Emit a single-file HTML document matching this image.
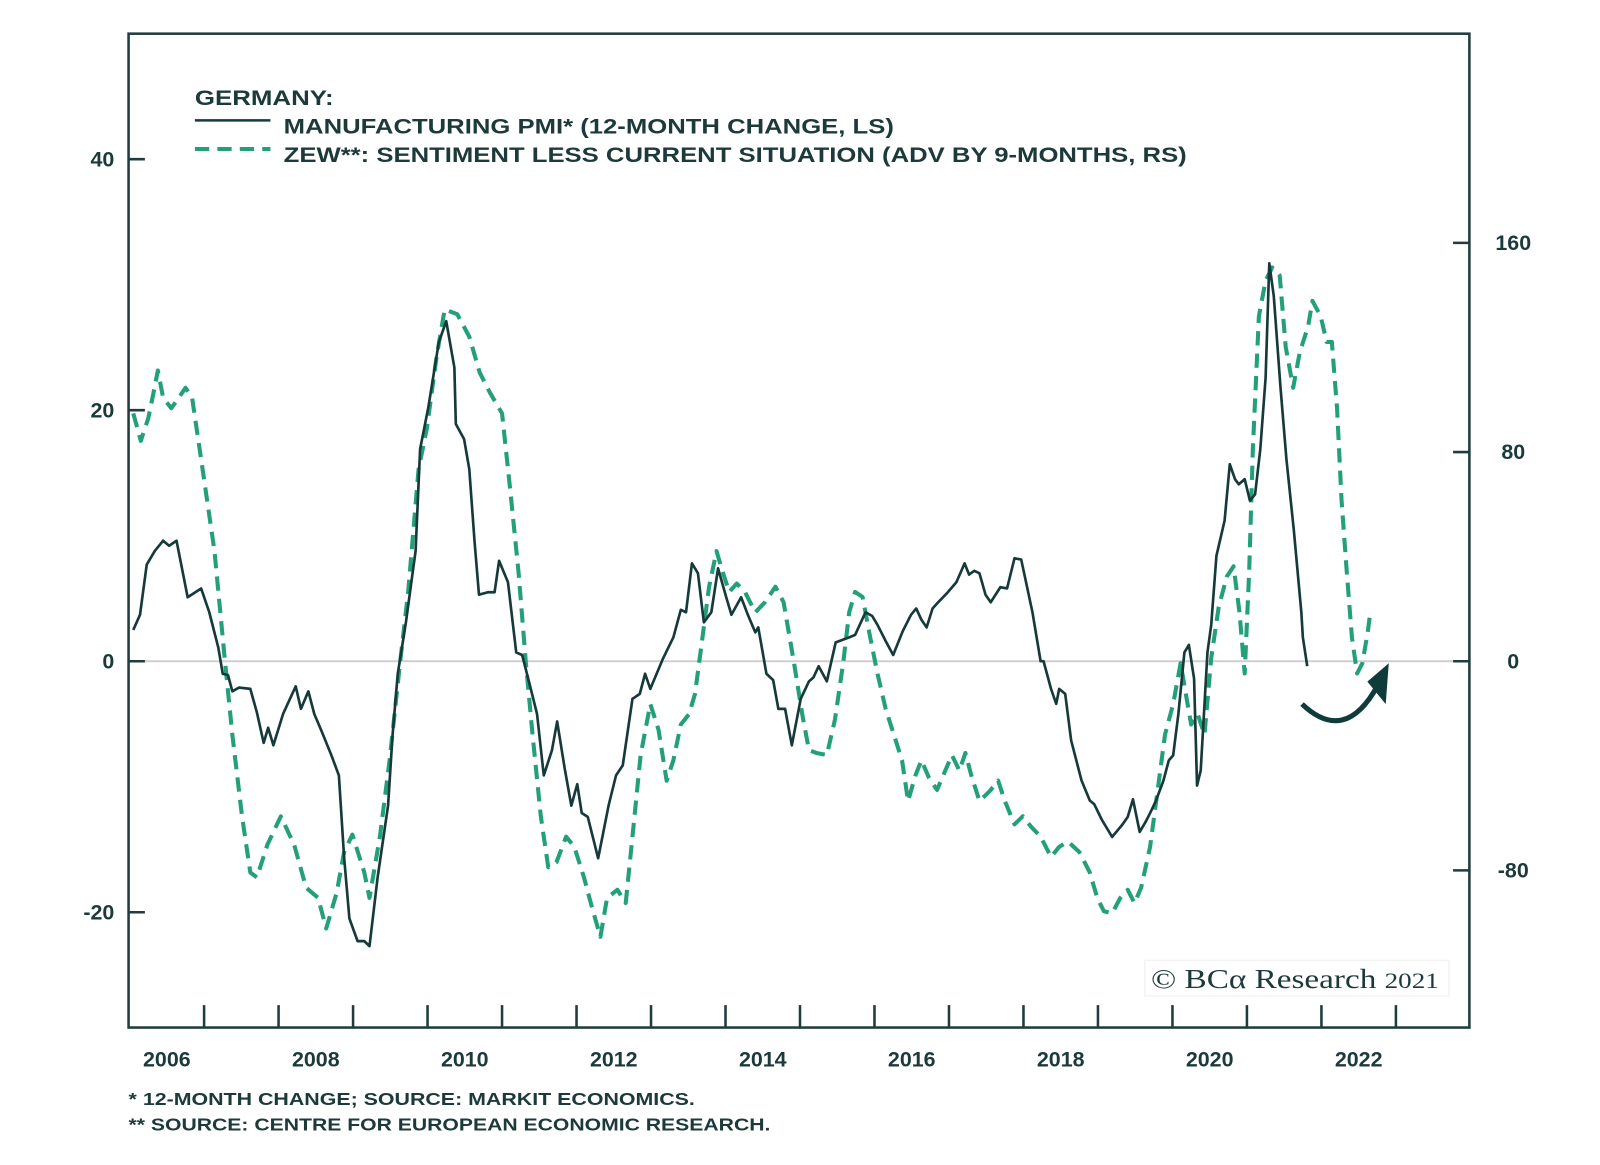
<!DOCTYPE html>
<html><head><meta charset="utf-8"><style>
html,body{margin:0;padding:0;background:#fff;}
svg{display:block;}
text{font-family:"Liberation Sans",sans-serif;fill:#1d3a3a;}
</style></head><body>
<svg id="chart" width="1600" height="1165" viewBox="0 0 1568 1141.7" xmlns="http://www.w3.org/2000/svg">
<rect x="0" y="0" width="1568" height="1142" fill="#fff"/>
<line x1="127" x2="1440" y1="648" y2="648" stroke="#cfcfcf" stroke-width="2"/>
<g id="axes"></g>
<g id="series"></g>
<rect x="126" y="33" width="1314" height="974" fill="none" stroke="#1f3d3d" stroke-width="2.5"/>
<g>
<text x="191" y="103" font-size="21" font-weight="bold" textLength="136" lengthAdjust="spacingAndGlyphs">GERMANY:</text>
<line x1="191" x2="265" y1="118" y2="118" stroke="#16393a" stroke-width="2.5"/>
<text x="278" y="131" font-size="21" font-weight="bold" textLength="598" lengthAdjust="spacingAndGlyphs">MANUFACTURING PMI* (12-MONTH CHANGE, LS)</text>
<line x1="191" x2="265" y1="146" y2="146" stroke="#23a07a" stroke-width="4" stroke-dasharray="14,8"/>
<text x="278" y="159" font-size="21" font-weight="bold" textLength="885" lengthAdjust="spacingAndGlyphs">ZEW**: SENTIMENT LESS CURRENT SITUATION (ADV BY 9-MONTHS, RS)</text>
</g>
<g>
<rect x="1122" y="941" width="298" height="35" fill="#fff" stroke="#eeeeee" stroke-width="1"/>
<text x="1128" y="968" font-size="27" style="font-family:'Liberation Serif',serif" textLength="282" lengthAdjust="spacingAndGlyphs">© BCα Research <tspan font-size="22">2021</tspan></text>
</g>
<g>
<path d="M1276,690 Q1318,730 1350,672" fill="none" stroke="#0f3b3b" stroke-width="5"/>
<polygon points="1361,650 1340,668 1358,690" fill="#0f3b3b"/>
</g>
<text x="126" y="1083" font-size="17" font-weight="bold" textLength="555" lengthAdjust="spacingAndGlyphs">*  12-MONTH CHANGE; SOURCE: MARKIT ECONOMICS.</text>
<text x="126" y="1108" font-size="17" font-weight="bold" textLength="629" lengthAdjust="spacingAndGlyphs">** SOURCE: CENTRE FOR EUROPEAN ECONOMIC RESEARCH.</text>
</svg>
<script>
const leftTicks = [40, 20, 0, -20];
const rightTicks = [160, 80, 0, -80];
const yearLabels = [2006, 2008, 2010, 2012, 2014, 2016, 2018, 2020, 2022];
const pmiDates = [2006.05,2006.14,2006.23,2006.34,2006.45,2006.53,2006.63,2006.78,2006.96,2007.07,2007.19,2007.25,2007.32,2007.38,2007.47,2007.62,2007.71,2007.8,2007.86,2007.93,2008.06,2008.23,2008.3,2008.4,2008.48,2008.58,2008.71,2008.81,2008.88,2008.95,2009.06,2009.15,2009.22,2009.33,2009.47,2009.53,2009.6,2009.71,2009.84,2009.9,2010.01,2010.15,2010.25,2010.36,2010.38,2010.49,2010.56,2010.63,2010.69,2010.81,2010.9,2010.96,2011.08,2011.19,2011.27,2011.36,2011.47,2011.56,2011.67,2011.74,2011.84,2011.93,2012.01,2012.07,2012.15,2012.29,2012.43,2012.53,2012.62,2012.75,2012.85,2012.92,2012.99,2013.16,2013.3,2013.4,2013.47,2013.55,2013.63,2013.71,2013.81,2013.9,2014.01,2014.08,2014.21,2014.3,2014.4,2014.44,2014.55,2014.64,2014.71,2014.8,2014.89,2015.01,2015.12,2015.18,2015.25,2015.36,2015.48,2015.66,2015.74,2015.88,2015.97,2016.04,2016.15,2016.25,2016.38,2016.49,2016.56,2016.63,2016.7,2016.78,2016.84,2016.97,2017.1,2017.21,2017.27,2017.34,2017.41,2017.49,2017.56,2017.69,2017.78,2017.88,2017.97,2018.12,2018.23,2018.27,2018.37,2018.44,2018.48,2018.56,2018.64,2018.71,2018.78,2018.89,2018.95,2019.05,2019.19,2019.33,2019.4,2019.47,2019.56,2019.64,2019.7,2019.78,2019.88,2019.95,2020.01,2020.08,2020.16,2020.22,2020.29,2020.33,2020.38,2020.47,2020.52,2020.59,2020.7,2020.77,2020.84,2020.89,2020.97,2021.04,2021.11,2021.18,2021.25,2021.3,2021.36,2021.45,2021.53,2021.63,2021.73,2021.75,2021.81];
const pmiValues = [2.5,3.7,7.7,8.8,9.6,9.2,9.6,5.1,5.8,3.9,1.1,-1.0,-1.1,-2.4,-2.1,-2.2,-4.1,-6.5,-5.3,-6.7,-4.2,-2.0,-3.8,-2.4,-4.2,-5.6,-7.5,-9.1,-15.6,-20.5,-22.3,-22.3,-22.7,-17.2,-11.5,-5.9,-1.0,3.1,8.8,16.9,20.2,25.4,27.1,23.4,18.9,17.7,15.3,9.6,5.3,5.5,5.5,8.0,6.3,0.7,0.5,-1.6,-4.2,-9.1,-7.1,-4.8,-8.5,-11.5,-9.8,-12.1,-12.4,-15.7,-11.5,-9.1,-8.3,-3.0,-2.6,-1.0,-2.2,0.2,1.9,4.1,3.9,7.8,7.0,3.1,3.9,7.4,5.1,3.7,5.1,3.7,2.3,2.7,-1.0,-1.5,-3.8,-3.8,-6.7,-3.0,-1.6,-1.3,-0.4,-1.6,1.5,1.9,2.1,3.9,3.6,2.9,1.6,0.5,2.4,3.7,4.2,3.3,2.7,4.2,4.6,5.4,6.3,7.8,6.9,7.2,7.0,5.3,4.7,5.9,5.8,8.2,8.1,3.9,0,0,-2.2,-3.4,-2.2,-2.6,-6.3,-7.9,-9.5,-11.1,-11.4,-12.6,-14.0,-13.0,-12.4,-11.0,-13.6,-12.8,-12.1,-11.1,-9.5,-7.9,-7.5,-4.2,0.7,1.3,-1.4,-9.9,-8.7,0.7,2.9,8.4,11.2,15.7,14.5,14.1,14.5,12.8,13.3,16.9,22.6,31.7,29.1,21.8,16.1,10.4,3.9,1.9,-0.4];
const zewDates = [2006.05,2006.15,2006.25,2006.32,2006.38,2006.45,2006.56,2006.64,2006.75,2006.84,2007.0,2007.14,2007.27,2007.38,2007.51,2007.62,2007.71,2007.85,2008.03,2008.21,2008.37,2008.53,2008.64,2008.78,2008.88,2008.99,2009.15,2009.22,2009.36,2009.49,2009.63,2009.74,2009.88,2009.99,2010.12,2010.23,2010.4,2010.56,2010.7,2010.84,2011.0,2011.11,2011.22,2011.32,2011.41,2011.52,2011.62,2011.73,2011.86,2011.97,2012.1,2012.21,2012.32,2012.41,2012.55,2012.66,2012.75,2012.86,2012.99,2013.1,2013.21,2013.3,2013.4,2013.51,2013.59,2013.69,2013.78,2013.88,2013.96,2014.05,2014.15,2014.26,2014.4,2014.53,2014.67,2014.78,2014.92,2015.03,2015.12,2015.22,2015.36,2015.47,2015.58,2015.66,2015.74,2015.84,2015.93,2016.04,2016.15,2016.26,2016.37,2016.45,2016.55,2016.63,2016.73,2016.84,2016.95,2017.04,2017.14,2017.22,2017.3,2017.41,2017.55,2017.66,2017.75,2017.88,2017.99,2018.1,2018.23,2018.37,2018.48,2018.6,2018.75,2018.89,2018.99,2019.08,2019.19,2019.3,2019.4,2019.49,2019.58,2019.7,2019.8,2019.9,2020.01,2020.11,2020.18,2020.25,2020.34,2020.43,2020.52,2020.62,2020.73,2020.82,2020.9,2020.97,2021.03,2021.08,2021.16,2021.25,2021.34,2021.44,2021.52,2021.62,2021.71,2021.82,2021.88,2021.99,2022.07,2022.14,2022.21,2022.27,2022.34,2022.41,2022.48,2022.55,2022.62,2022.66];
const zewValues = [94.8,84.3,92.9,102.6,111.2,100.7,96.8,99.9,104.6,100.7,69.5,42.1,3.1,-28.1,-59.3,-80.8,-82.7,-70.2,-59.3,-70.2,-86.6,-90.5,-102.2,-88.6,-73.0,-66.3,-80.8,-90.5,-67.1,-37.9,-0.8,26.5,73.4,89.0,116.3,134.6,132.7,124.1,110.4,102.6,94.8,65.6,34.3,-0.8,-28.1,-59.3,-78.8,-76.9,-67.1,-71.0,-82.7,-94.4,-105.4,-90.5,-87.4,-92.5,-67.1,-35.9,-16.4,-26.1,-45.7,-37.9,-24.2,-20.3,-12.5,9.0,28.5,42.1,34.3,26.5,29.7,26.5,18.7,22.6,28.5,22.6,-0.8,-20.3,-34.0,-35.1,-35.9,-22.2,-0.8,18.7,26.5,24.6,10.9,-4.7,-18.3,-28.1,-37.9,-53.5,-43.7,-37.9,-44.5,-49.2,-41.8,-35.9,-41.8,-35.1,-43.7,-53.5,-49.6,-45.7,-53.5,-62.4,-59.3,-63.2,-67.1,-74.9,-71.0,-69.0,-73.0,-80.8,-90.5,-95.6,-96.4,-90.5,-87.4,-92.5,-86.6,-71.0,-49.6,-28.1,-16.4,-0.8,-12.5,-24.2,-20.3,-28.1,1.2,20.7,32.4,36.3,18.7,-4.7,34.3,81.2,131.9,145.6,150.6,147.5,120.2,104.6,118.2,128.0,137.8,131.9,122.1,122.1,96.8,61.7,34.3,9.0,-4.7,-0.8,10.9,19.5];

const NS = 'http://www.w3.org/2000/svg';
const X0 = 127, PX_YEAR = 73, START = 2006;
const xScale = t => X0 + (t - START) * PX_YEAR;
const yLeft = v => 648 - v * 12.3;
const yRight = v => 648 - v * 2.5625;
function mk(tag, attrs, parent) {
  const el = document.createElementNS(NS, tag);
  for (const k in attrs) el.setAttribute(k, attrs[k]);
  parent.appendChild(el);
  return el;
}
const axes = document.getElementById('axes');
const series = document.getElementById('series');
leftTicks.forEach(v => {
  const y = yLeft(v);
  const tk = mk('line', {x1: 126, x2: 142, y1: y, y2: y, stroke: '#1f3d3d', 'stroke-width': 2.5}, axes);
  
  
  const tx = mk('text', {x: 112, y: y + 7, 'font-size': 21, 'font-weight': 'bold', 'text-anchor': 'end'}, axes);
  tx.textContent = v;
  
  
});
rightTicks.forEach(v => {
  const y = yRight(v);
  const tk = mk('line', {x1: 1424, x2: 1440, y1: y, y2: y, stroke: '#1f3d3d', 'stroke-width': 2.5}, axes);
  
  
  const tx = mk('text', {x: 1483, y: y + 7, 'font-size': 21, 'font-weight': 'bold', 'text-anchor': 'middle'}, axes);
  tx.textContent = v;
  
  
});
for (let yr = START + 1; yr <= 2023; yr++) {
  const x = xScale(yr);
  const tk = mk('line', {x1: x, x2: x, y1: 985, y2: 1007, stroke: '#1f3d3d', 'stroke-width': 2.5}, axes);
  
  
}
yearLabels.forEach(yr => {
  const tx = mk('text', {x: xScale(yr + 0.5), y: 1045, 'font-size': 21, 'font-weight': 'bold', 'text-anchor': 'middle'}, axes);
  tx.textContent = yr;
  
  
});
const zewPts = zewDates.map((t, i) => xScale(t).toFixed(1) + ',' + yRight(zewValues[i]).toFixed(1)).join(' ');
const zew = mk('polyline', {points: zewPts, fill: 'none', stroke: '#23a07a', 'stroke-width': 4, 'stroke-dasharray': '14,8', 'stroke-linejoin': 'round'}, series);


const pmiPts = pmiDates.map((t, i) => xScale(t).toFixed(1) + ',' + yLeft(pmiValues[i]).toFixed(1)).join(' ');
const pmi = mk('polyline', {points: pmiPts, fill: 'none', stroke: '#16393a', 'stroke-width': 2.6, 'stroke-linejoin': 'round'}, series);


</script>
</body></html>
